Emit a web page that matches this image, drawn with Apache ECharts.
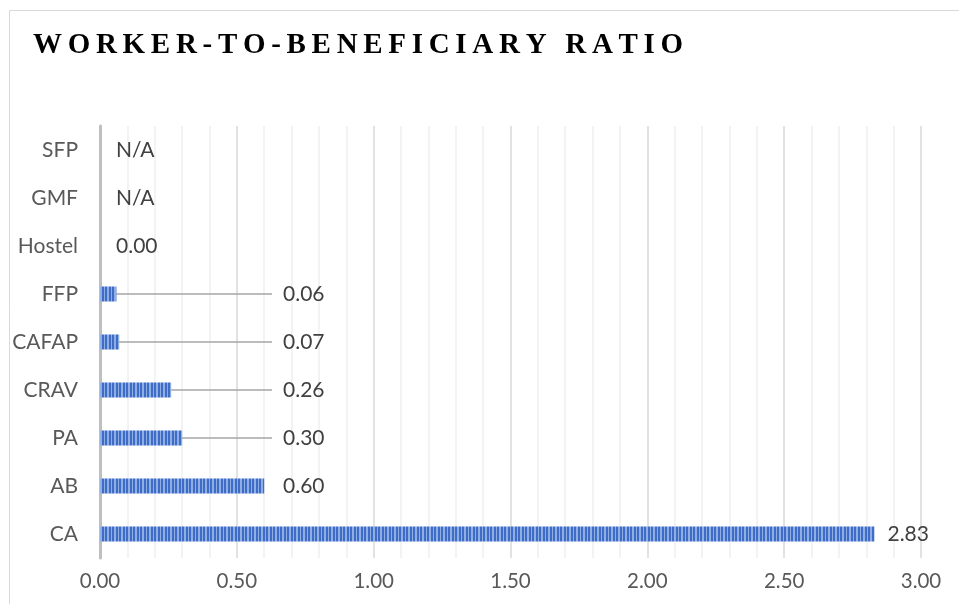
<!DOCTYPE html>
<html>
<head>
<meta charset="utf-8">
<title>Worker-to-Beneficiary Ratio</title>
<script src="https://cdn.jsdelivr.net/npm/echarts@6/dist/echarts.min.js"></script>
<style>
  html, body { margin: 0; padding: 0; background: #ffffff; }
  #chart { width: 959px; height: 604px; }
</style>
</head>
<body>
<div id="chart"></div>
<script>
// Programmes, listed bottom to top on the vertical axis
const categories = ['CA', 'AB', 'PA', 'CRAV', 'CAFAP', 'FFP', 'Hostel', 'GMF', 'SFP'];
// Worker-to-beneficiary ratio per programme (null = not applicable)
const ratios = [2.83, 0.60, 0.30, 0.26, 0.07, 0.06, 0.00, null, null];
// Horizontal axis tick values
const xTicks = [0, 0.5, 1, 1.5, 2, 2.5, 3];

const titleText = 'WORKER-TO-BENEFICIARY RATIO';

const chart = echarts.init(document.getElementById('chart'), null, { renderer: 'canvas' });

// Striped fill for the bars
function stripePattern() {
  const c = document.createElement('canvas');
  c.width = 7; c.height = 4;
  const g = c.getContext('2d');
  g.fillStyle = '#8FAEE3';
  g.fillRect(0, 0, 7, 4);
  g.fillStyle = '#3F6CC6';
  g.fillRect(0, 0, 2, 4);
  g.fillRect(4, 0, 2, 4);
  return c;
}

// Letter-spaced title, one glyph per text element
function titleGlyphs() {
  const font = 'bold 29px "Liberation Serif", "Times New Roman", serif';
  const ctx = document.createElement('canvas').getContext('2d');
  ctx.font = font;
  const spacing = 5.7;
  let x = 33;
  const out = [];
  for (const ch of titleText) {
    const w = ctx.measureText(ch).width;
    if (ch !== ' ') {
      out.push({
        type: 'text',
        x: x, y: 46,
        style: {
          text: ch, font: font, fill: '#000000',
          textAlign: 'left', textVerticalAlign: 'middle'
        }
      });
    }
    x += w + spacing;
  }
  return out;
}

// Short bars whose value labels sit in a common column; the first four get leader lines
const leaderIdx = [2, 3, 4, 5];
const columnIdx = [1, 2, 3, 4, 5];
const labelColumnX = 283;
const leaderEndX = 272;

const labelFont = { color: '#404040', fontFamily: 'Lato', fontSize: 21 };

const option = {
  animation: false,
  backgroundColor: '#ffffff',
  graphic: [
    {
      type: 'rect',
      shape: { x: 9.5, y: 10.5, width: 980, height: 640 },
      style: { fill: 'none', stroke: '#D9D9D9', lineWidth: 1 },
      silent: true
    },
    { type: 'group', children: titleGlyphs() }
  ],
  grid: { left: 100, right: 38, top: 126, bottom: 46, containLabel: false },
  xAxis: {
    type: 'value',
    min: xTicks[0],
    max: xTicks[xTicks.length - 1],
    interval: 0.5,
    axisLine: { show: false },
    axisTick: { show: false },
    axisLabel: {
      formatter: v => v.toFixed(2),
      color: '#595959',
      fontFamily: 'Lato',
      fontSize: 20.5,
      margin: 13
    },
    splitLine: { show: true, lineStyle: { color: '#D9D9D9', width: 1.5 } },
    minorTick: { show: false, splitNumber: 5 },
    minorSplitLine: { show: true, lineStyle: { color: '#F0F0F0', width: 1.5 } }
  },
  yAxis: {
    type: 'category',
    data: categories,
    axisLine: { show: true, lineStyle: { color: '#BFBFBF', width: 3 } },
    axisTick: { show: false },
    axisLabel: {
      color: '#595959',
      fontFamily: 'Lato',
      fontSize: 21,
      margin: 22
    },
    splitLine: { show: false }
  },
  series: [
    {
      // leader lines from the bar end to the label column
      type: 'custom',
      silent: true,
      z: 1,
      data: leaderIdx.map(i => [ratios[i], i]),
      renderItem: (params, api) => {
        const p = api.coord([api.value(0), api.value(1)]);
        return {
          type: 'line',
          shape: { x1: p[0], y1: p[1], x2: leaderEndX, y2: p[1] },
          style: { stroke: '#A6A6A6', lineWidth: 1.5 }
        };
      }
    },
    {
      type: 'bar',
      z: 2,
      data: ratios.map(v => (v === null ? 0 : v)),
      barWidth: 15,
      itemStyle: {
        color: { image: stripePattern(), repeat: 'repeat' },
        borderWidth: 0
      },
      label: Object.assign({
        show: true,
        position: 'right',
        distance: 16,
        formatter: p => (ratios[p.dataIndex] === null ? 'N/A' : ratios[p.dataIndex].toFixed(2))
      }, labelFont),
      labelLayout: p => {
        if (columnIdx.indexOf(p.dataIndex) >= 0) {
          return {
            x: labelColumnX,
            y: p.rect.y + p.rect.height / 2,
            align: 'left',
            verticalAlign: 'middle'
          };
        }
        if (p.dataIndex === 0) {
          return { dx: -3 };
        }
        return {};
      }
    }
  ]
};

chart.setOption(option);
</script>
</body>
</html>
